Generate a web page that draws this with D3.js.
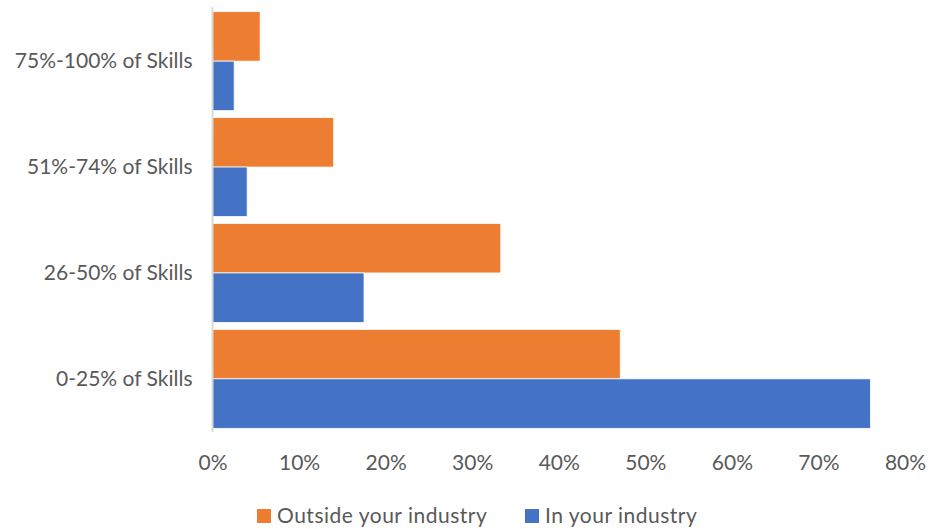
<!DOCTYPE html>
<html>
<head>
<meta charset="utf-8">
<script src="https://cdn.jsdelivr.net/npm/d3@7"></script>
<style>
  html, body { margin: 0; padding: 0; background: #fff; }
  svg { display: block; }
  text { font-family: Lato, "Open Sans", sans-serif; fill: #595959; }
</style>
</head>
<body>
<svg id="chart" width="929" height="529"></svg>
<script>
// Share of skills transferable, by where the next job is
const categories = ["75%-100% of Skills", "51%-74% of Skills", "26-50% of Skills", "0-25% of Skills"];
const seriesNames = ["Outside your industry", "In your industry"];
const seriesColors = ["#ED7D31", "#4472C4"];
const outsideIndustry = [5.5, 14.0, 33.3, 47.1];
const inIndustry = [2.5, 4.0, 17.5, 76.0];
const xTicks = [0, 10, 20, 30, 40, 50, 60, 70, 80];

const rows = categories.map((c, i) => ({
  category: c,
  values: [outsideIndustry[i], inIndustry[i]]
}));

const svg = d3.select("#chart");
const margin = { left: 212.5, top: 8.2 };

const x = d3.scaleLinear()
  .domain([0, 80])
  .range([margin.left, 905]);

const y = d3.scaleBand()
  .domain(categories)
  .range([margin.top, 431.8])
  .paddingInner(0.066)
  .paddingOuter(0.033);

const ySub = d3.scaleBand()
  .domain(d3.range(seriesNames.length))
  .range([0, y.bandwidth()]);

// bars
const groups = svg.append("g")
  .selectAll("g")
  .data(rows)
  .join("g")
  .attr("transform", d => `translate(0,${y(d.category)})`);

groups.selectAll("rect")
  .data(d => d.values.map((v, k) => ({ v, k })))
  .join("rect")
  .attr("x", x(0))
  .attr("y", d => ySub(d.k))
  .attr("width", d => x(d.v) - x(0))
  .attr("height", ySub.bandwidth())
  .attr("fill", d => seriesColors[d.k])
  .attr("stroke", "#fff")
  .attr("stroke-width", 0.75);

// vertical category axis line
svg.append("line")
  .attr("x1", x(0)).attr("x2", x(0))
  .attr("y1", y.range()[0] - 1).attr("y2", y.range()[1])
  .attr("stroke", "#d9d9d9")
  .attr("stroke-width", 2);

// category labels
const yAxis = svg.append("g")
  .attr("transform", `translate(${x(0)},0)`)
  .call(d3.axisLeft(y).tickSize(0).tickPadding(20));
yAxis.select(".domain").remove();
yAxis.selectAll("text")
  .style("font-size", "21px")
  .attr("fill", "#595959");

// value axis labels
const xAxis = svg.append("g")
  .attr("transform", `translate(0,${451})`)
  .call(d3.axisBottom(x).tickValues(xTicks).tickFormat(d => d + "%").tickSize(0).tickPadding(0));
xAxis.select(".domain").remove();
xAxis.selectAll("text")
  .style("font-size", "21px")
  .attr("fill", "#595959")
  .attr("dy", "0.9em");

// legend
const legendItems = [
  { name: seriesNames[0], color: seriesColors[0], x: 257 },
  { name: seriesNames[1], color: seriesColors[1], x: 525 }
];
const legend = svg.append("g").attr("transform", "translate(0,516)");
const li = legend.selectAll("g").data(legendItems).join("g")
  .attr("transform", d => `translate(${d.x},0)`);
li.append("rect")
  .attr("x", 0).attr("y", -7)
  .attr("width", 14).attr("height", 14)
  .attr("fill", d => d.color);
li.append("text")
  .attr("x", 20).attr("y", 0)
  .attr("dy", "0.35em")
  .style("font-size", "21px")
  .style("letter-spacing", "0.5px")
  .text(d => d.name);
</script>
</body>
</html>
